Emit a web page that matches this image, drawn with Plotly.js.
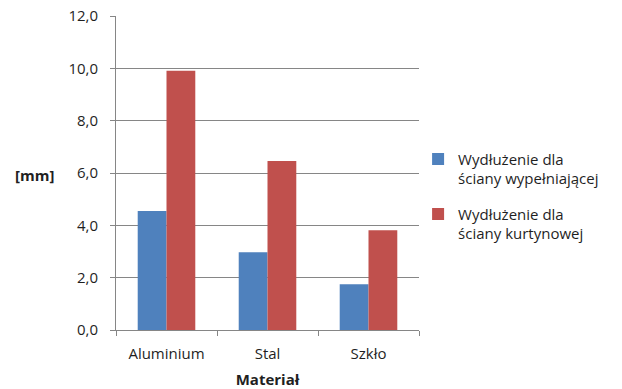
<!DOCTYPE html>
<html>
<head>
<meta charset="utf-8">
<script src="https://cdn.plot.ly/plotly-3.0.1.min.js"></script>
<style>html,body{margin:0;padding:0;background:#fff;}#chart{width:622px;height:389px;}</style>
</head>
<body>
<div id="chart"></div>
<script>
const categories = ["Aluminium", "Stal", "Szkło"];
const seriesNames = ["Wydłużenie dla<br>ściany wypełniającej", "Wydłużenie dla<br>ściany kurtynowej"];
const wypelniajacej = [4.55, 2.97, 1.75];
const kurtynowej = [9.91, 6.46, 3.81];
const yTicks = [0, 2, 4, 6, 8, 10, 12];

const font = "'Open Sans', 'Noto Sans', sans-serif";
const data = [
  {type: "bar", x: categories, y: wypelniajacej, name: seriesNames[0], legendgroup: "a", marker: {color: "#4f81bd"}},
  {type: "bar", x: categories, y: kurtynowej, name: seriesNames[1], legendgroup: "b", marker: {color: "#c0504d"}}
];
const layout = {
  width: 622, height: 389,
  margin: {l: 116, r: 203, t: 16, b: 59},
  paper_bgcolor: "#fff", plot_bgcolor: "#fff",
  separators: ", ",
  barmode: "group", bargap: 0.43, bargroupgap: 0,
  font: {family: font, size: 15, color: "#1f1f1f"},
  xaxis: {
    type: "category", showline: true, linecolor: "#868686", linewidth: 1,
    ticks: "outside", ticklen: 5, tickcolor: "#868686", tickson: "boundaries",
    showgrid: false, tickfont: {size: 15}, zeroline: false, ticklabelstandoff: 10,
    title: {text: "<b>Materiał</b>", font: {size: 15}, standoff: 14}
  },
  yaxis: {
    range: [0, 12], tickvals: yTicks, tickformat: ".1f",
    showline: true, linecolor: "#868686", linewidth: 1,
    ticks: "outside", ticklen: 5, tickcolor: "#868686",
    showgrid: true, gridcolor: "#868686", gridwidth: 1, zeroline: false,
    tickfont: {size: 15}, ticklabelstandoff: 9
  },
  legend: {
    x: 0.997, y: 0.596, xanchor: "left", yanchor: "top",
    font: {size: 15}, tracegroupgap: 13, itemwidth: 30, valign: "top",
    bgcolor: "rgba(0,0,0,0)"
  },
  annotations: [{
    text: "<b>[mm]</b>", xref: "paper", yref: "paper", x: -0.27, y: 0.494,
    xanchor: "center", yanchor: "middle", showarrow: false, font: {size: 15}
  }],
  showlegend: true
};
Plotly.newPlot("chart", data, layout, {displayModeBar: false, staticPlot: true});
</script>
</body>
</html>
